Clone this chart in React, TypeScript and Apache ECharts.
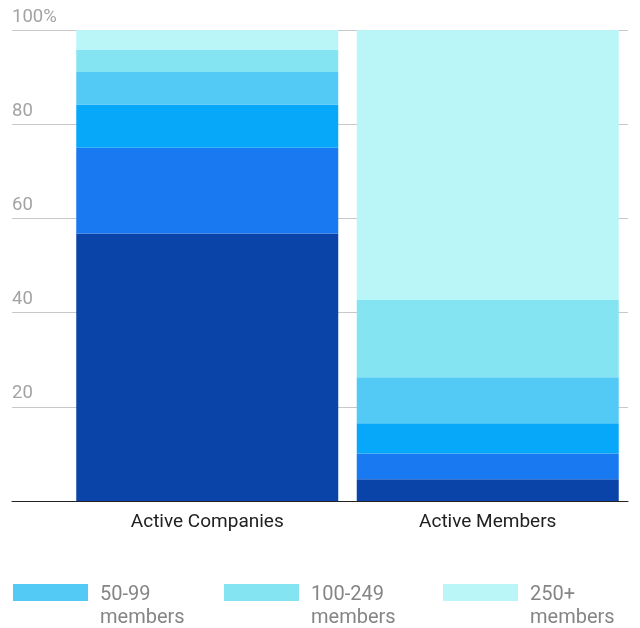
import React, { useEffect, useRef } from "react";
import * as echarts from "echarts";

const categories = ["Active Companies", "Active Members"];
const seriesNames = [
  "1-9 members",
  "10-19 members",
  "20-49 members",
  "50-99 members",
  "100-249 members",
  "250+ members",
];
// percentages per category, bottom segment first
const companiesShare = [56.8, 18.2, 9.2, 6.9, 4.65, 4.25];
const membersShare = [4.6, 5.5, 6.4, 9.8, 16.4, 57.3];
const colors = ["#0B44A9", "#1879F1", "#07A8FA", "#52CAF5", "#85E4F2", "#BAF6F7"];
const yTicks = [0, 20, 40, 60, 80, 100];
const legendNames = ["50-99 members", "100-249 members", "250+ members"];
const legendLefts = [13, 224, 443];

export default function App() {
  const ref = useRef<HTMLDivElement>(null);
  useEffect(() => {
    if (!ref.current) return;
    const chart = echarts.init(ref.current, undefined, { renderer: "svg" });
    const font = "Roboto";
    const series = seriesNames.map((name, i) => ({
      name,
      type: "bar",
      stack: "total",
      xAxisIndex: 1,
      yAxisIndex: 1,
      barCategoryGap: "6.6%",
      itemStyle: { color: colors[i] },
      data: [companiesShare[i], membersShare[i]],
    }));
    chart.setOption({
      animation: false,
      textStyle: { fontFamily: font },
      grid: [
        { left: 12, right: 12, top: 30, bottom: 127 },
        { left: 67, right: 12, top: 30, bottom: 127 },
      ],
      xAxis: [
        {
          gridIndex: 0,
          type: "category",
          data: [""],
          z: 10,
          axisLine: { show: true, lineStyle: { color: "#222", width: 1 } },
          axisTick: { show: false },
          axisLabel: { show: false },
        },
        {
          gridIndex: 1,
          type: "category",
          data: categories,
          axisLine: { show: false },
          axisTick: { show: false },
          axisLabel: { fontSize: 19, color: "#212121", margin: 10, fontFamily: font },
        },
      ],
      yAxis: [
        {
          gridIndex: 0,
          type: "value",
          min: 0,
          max: 100,
          interval: 20,
          axisLine: { show: false },
          axisTick: { show: false },
          splitLine: { lineStyle: { color: "#c8c8c8", width: 1 } },
          axisLabel: {
            inside: true,
            margin: 0,
            verticalAlign: "bottom",
            fontSize: 18.5,
            color: "#a3a3a3",
            fontFamily: font,
            padding: [0, 0, 5, 0],
            formatter: (v: number) =>
              v === 0 ? "" : v === yTicks[yTicks.length - 1] ? `${v}%` : `${v}`,
          },
        },
        { gridIndex: 1, type: "value", min: 0, max: 100, show: false },
      ],
      legend: legendNames.map((n, i) => ({
        data: [n],
        left: legendLefts[i],
        top: 557.25,
        padding: 0,
        itemWidth: 75,
        itemHeight: 17,
        icon: "rect",
        selectedMode: false,
        formatter: (name: string) => "\n" + name.replace(" ", "\n"),
        textStyle: {
          fontSize: 20,
          lineHeight: 23.5,
          color: "#858585",
          fontFamily: font,
          padding: [0, 0, 0, 7],
        },
      })),
      series,
    });
    return () => chart.dispose();
  }, []);
  return (
    <div
      ref={ref}
      style={{ position: "fixed", left: 0, top: 0, width: 640, height: 628 }}
    />
  );
}
